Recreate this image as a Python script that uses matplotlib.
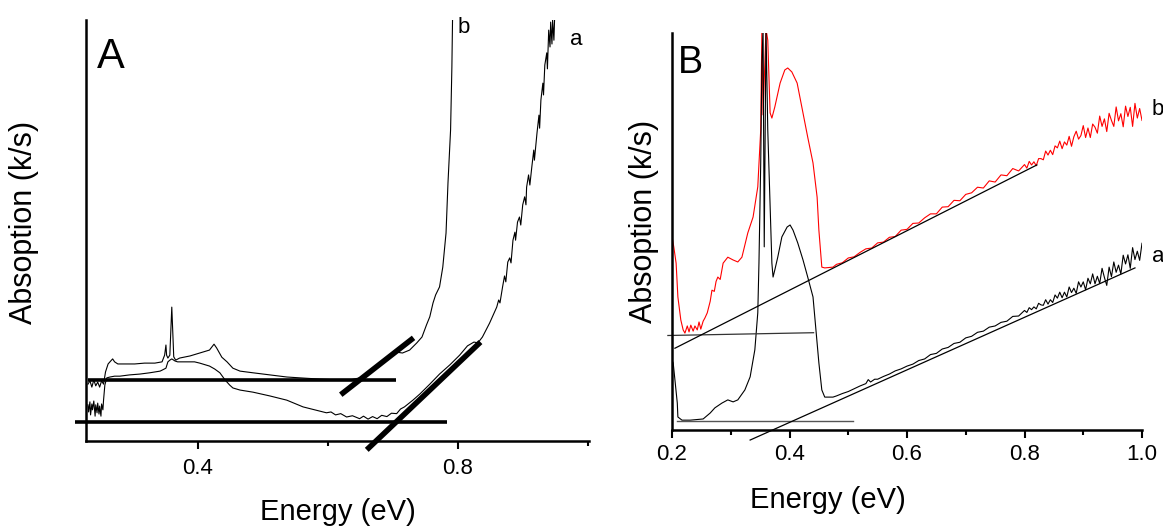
import matplotlib
matplotlib.use('Agg')
import matplotlib.pyplot as plt
from matplotlib.ticker import FixedLocator, MultipleLocator

plt.rcParams['font.family'] = ['Liberation Sans', 'DejaVu Sans']

# ---------------- Panel A (energy in eV, absorption in arbitrary units) ----------------
A_b_energy = [0.231, 0.234, 0.237, 0.240, 0.243, 0.246, 0.249, 0.252, 0.255,
              0.258, 0.262, 0.266, 0.269, 0.272, 0.277, 0.288,
              0.303, 0.318, 0.334, 0.345,
              0.349, 0.351, 0.352, 0.354, 0.357, 0.360, 0.362, 0.363, 0.366,
              0.372, 0.388, 0.403, 0.418, 0.425, 0.429, 0.437, 0.445, 0.454, 0.465,
              0.485, 0.511, 0.537, 0.557, 0.588, 0.618, 0.634, 0.649, 0.665, 0.680,
              0.695, 0.706, 0.715, 0.726, 0.737, 0.745, 0.752, 0.757, 0.762, 0.766,
              0.772, 0.777, 0.782, 0.785, 0.789, 0.791, 0.792]
A_b_abs = [13.5, 14.3, 12.8, 14.5, 13.1, 14.0, 12.8, 14.3, 13.5,
           16.4, 18.3, 19.0, 19.5, 18.8, 18.3, 18.3,
           18.3, 18.5, 18.5, 18.8,
           20.4, 22.8, 20.4, 19.7, 20.4, 31.8, 24.0, 20.0, 19.2,
           19.7, 20.2, 20.9, 21.6, 23.0, 22.1, 19.9, 18.8, 17.3, 16.6,
           16.2, 15.7, 15.2, 15.0, 14.7, 14.5, 14.5, 15.0, 16.4, 18.1,
           20.4, 21.1, 20.9, 21.6, 23.3, 24.7, 27.6, 29.5, 32.8, 34.7,
           36.6, 41.3, 49.4, 61.3, 73.9, 88.8, 100.0]

A_a_energy = [0.231, 0.232, 0.234, 0.235, 0.237, 0.238, 0.240, 0.242, 0.243, 0.245,
              0.246, 0.248, 0.249, 0.251, 0.252, 0.254, 0.255,
              0.257, 0.260, 0.265, 0.272, 0.280, 0.295, 0.311, 0.326, 0.342, 0.346,
              0.351, 0.354, 0.357, 0.360, 0.365, 0.369, 0.380, 0.395, 0.403, 0.418,
              0.426, 0.434, 0.442, 0.449, 0.454, 0.465, 0.485, 0.511, 0.537, 0.562,
              0.580, 0.598, 0.605, 0.612, 0.620, 0.629, 0.638, 0.649, 0.655, 0.662,
              0.669, 0.676, 0.683, 0.691, 0.698, 0.706, 0.712, 0.718, 0.731, 0.742,
              0.757, 0.772, 0.788, 0.803, 0.815, 0.825, 0.831, 0.838, 0.849, 0.860,
              0.863, 0.865, 0.869, 0.872, 0.874, 0.877, 0.880, 0.882, 0.885, 0.888,
              0.889, 0.892, 0.895, 0.897, 0.900, 0.903, 0.905, 0.906, 0.909, 0.911,
              0.914, 0.917, 0.918, 0.922, 0.925, 0.926, 0.928, 0.931, 0.932, 0.934,
              0.937, 0.938, 0.940, 0.942, 0.943, 0.945, 0.946, 0.948, 0.949]
A_a_abs = [8.6, 6.9, 9.3, 6.2, 8.8, 7.4, 9.5, 5.9, 8.6, 6.7,
           9.0, 6.4, 8.3, 5.9, 8.8, 7.4, 9.7,
           13.3, 15.0, 15.2, 15.4, 15.4, 15.7, 15.9, 16.2, 16.6, 16.9,
           17.3, 18.8, 19.2, 19.5, 19.0, 18.8, 18.8, 18.8, 18.5, 17.8,
           17.1, 16.2, 14.5, 13.3, 12.6, 12.1, 11.6, 10.7, 9.7, 8.1,
           7.4, 6.7, 6.9, 6.2, 6.5, 5.7, 6.0, 5.3, 5.9, 5.2,
           5.8, 5.3, 6.1, 5.8, 6.6, 6.5, 7.6, 8.1, 9.7, 11.2,
           13.5, 15.9, 18.1, 20.4, 22.6, 23.5, 23.3, 24.7, 28.0, 31.8,
           33.5, 32.8, 36.6, 39.2, 37.8, 42.5, 43.5, 42.3, 47.7, 49.6,
           47.7, 52.0, 53.2, 51.3, 56.1, 58.0, 56.1, 60.3, 63.2, 60.8,
           65.1, 69.1, 66.7, 73.2, 77.4, 74.3, 81.0, 85.0, 82.2, 89.3,
           92.2, 88.4, 97.6, 93.6, 99.5, 94.3, 100.0, 95.2, 100.0]

# baselines and tangents of panel A: (x0, x1), (y0, y1)
A_base_b = ([0.231, 0.705], [14.5, 14.5])
A_base_a = ([0.211, 0.783], [4.6, 4.6])
A_tan_b = ([0.620, 0.732], [11.0, 24.5])
A_tan_a = ([0.660, 0.835], [-2.1, 23.5])

# ---------------- Panel B ----------------
B_b_energy = [0.200, 0.203, 0.207, 0.210, 0.215, 0.219, 0.222, 0.226, 0.229, 0.232,
              0.236, 0.239, 0.243, 0.246, 0.249, 0.253, 0.256, 0.260, 0.262, 0.265,
              0.268, 0.272, 0.275, 0.278, 0.282,
              0.287, 0.295, 0.304, 0.312, 0.319, 0.329, 0.338, 0.346, 0.351, 0.353,
              0.355, 0.360, 0.363, 0.367, 0.370, 0.375, 0.384, 0.392, 0.397, 0.404,
              0.413, 0.423, 0.431, 0.440, 0.447, 0.450, 0.455, 0.460, 0.474,
              0.48, 0.49, 0.50, 0.51, 0.52, 0.53, 0.54, 0.55, 0.56, 0.57,
              0.58, 0.59, 0.60, 0.61, 0.62, 0.63, 0.64, 0.65, 0.66, 0.67,
              0.68, 0.69, 0.70, 0.71, 0.72, 0.73, 0.74, 0.75, 0.76, 0.77,
              0.78, 0.79,
              0.800, 0.804, 0.808, 0.812, 0.816, 0.820, 0.824, 0.828, 0.832, 0.836,
              0.840, 0.844, 0.848, 0.852, 0.856, 0.860, 0.864, 0.868, 0.872, 0.876,
              0.880, 0.884, 0.888, 0.892, 0.896, 0.900, 0.904, 0.908, 0.912, 0.916,
              0.920, 0.924, 0.928, 0.932, 0.936, 0.940, 0.944, 0.948, 0.952, 0.956,
              0.960, 0.964, 0.968, 0.972, 0.976, 0.980, 0.984, 0.988, 0.992, 0.996,
              1.000]
B_b_abs = [48.8, 46.2, 42.1, 33.6, 27.8, 25.3, 24.5, 26.3, 24.8, 26.5,
           25.0, 26.3, 25.3, 27.3, 25.5, 27.5, 28.3, 29.6, 30.8, 32.5,
           35.3, 35.0, 37.5, 38.6, 38.0,
           42.1, 43.6, 42.9, 42.4, 43.6, 49.7, 53.7, 61.3, 75.6, 101.0,
           79.4, 101.0, 98.2, 79.9, 78.6, 81.4, 87.4, 90.7, 91.2, 90.2,
           87.4, 79.9, 73.8, 67.3, 58.7, 50.4, 41.1, 40.9, 41.1,
           41.8, 42.2, 43.4, 43.7, 44.8, 45.7, 45.9, 47.2, 47.4, 48.6,
           48.8, 50.4, 50.6, 52.1, 52.2, 53.5, 54.5, 54.5, 56.2, 56.3,
           57.9, 57.8, 59.4, 59.8, 61.2, 61.0, 62.8, 62.5, 64.3, 64.1,
           65.9, 65.3,
           66.9, 66.0, 67.7, 66.8, 67.6, 66.6, 68.4, 68.4, 68.1, 70.3,
           69.3, 70.5, 69.4, 71.6, 71.1, 72.8, 70.9, 72.6, 71.8, 74.0,
           71.5, 73.9, 75.3, 73.3, 74.2, 76.7, 73.7, 76.1, 73.7, 77.1,
           76.3, 74.8, 79.1, 76.5, 78.4, 75.2, 79.8, 78.0, 76.5, 81.4,
           77.9, 79.7, 76.4, 81.6, 79.0, 81.3, 76.5, 82.3, 78.6, 81.0,
           78.0]

B_a_energy = [0.200, 0.202, 0.205, 0.209, 0.210, 0.217, 0.231, 0.253, 0.265, 0.273,
              0.285, 0.295, 0.304, 0.312, 0.324, 0.333, 0.341, 0.346, 0.348, 0.351,
              0.353, 0.355, 0.357, 0.360, 0.363, 0.370, 0.372, 0.375, 0.380, 0.387,
              0.396, 0.401, 0.406, 0.414, 0.423, 0.431, 0.440, 0.445, 0.450, 0.455,
              0.460, 0.474,
              0.48, 0.49, 0.50, 0.51, 0.52, 0.53, 0.534, 0.538, 0.545, 0.55,
              0.56, 0.57, 0.58, 0.59, 0.60, 0.61, 0.62, 0.63, 0.64, 0.65,
              0.66, 0.67, 0.68, 0.69, 0.70, 0.71, 0.72, 0.73, 0.74, 0.75,
              0.76, 0.77, 0.78, 0.79,
              0.800, 0.804, 0.808, 0.812, 0.816, 0.820, 0.824, 0.828, 0.832, 0.836,
              0.840, 0.844, 0.848, 0.852, 0.856, 0.860, 0.864, 0.868, 0.872, 0.876,
              0.880, 0.884, 0.888, 0.892, 0.896, 0.900, 0.904, 0.908, 0.912, 0.916,
              0.920, 0.924, 0.928, 0.932, 0.936, 0.940, 0.944, 0.948, 0.952, 0.956,
              0.960, 0.964, 0.968, 0.972, 0.976, 0.980, 0.984, 0.988, 0.992, 0.996,
              1.000]
B_a_abs = [17.7, 17.0, 12.7, 6.9, 3.4, 2.6, 2.6, 2.9, 4.4, 5.7,
           6.9, 7.7, 7.2, 7.7, 10.2, 13.5, 20.3, 29.6, 42.1, 67.3,
           92.5, 101.0, 46.2, 101.0, 75.6, 42.1, 38.6, 40.4, 43.6, 48.7,
           51.2, 51.7, 50.4, 47.2, 42.9, 38.6, 33.6, 25.3, 17.0, 10.2,
           8.4, 8.4,
           8.7, 9.3, 9.8, 10.5, 11.2, 11.8, 12.8, 12.2, 12.9, 12.9,
           13.6, 14.2, 15.0, 15.5, 16.2, 16.7, 17.6, 18.0, 19.1, 19.4,
           20.5, 20.9, 21.9, 22.2, 23.3, 23.7, 24.7, 25.0, 26.0, 26.3,
           27.2, 27.5, 28.7, 28.8,
           30.2, 29.7, 30.9, 30.4, 31.1, 30.6, 32.0, 31.6, 31.5, 32.9,
           31.8, 32.9, 32.2, 34.1, 33.3, 34.8, 33.4, 34.8, 33.6, 36.1,
           34.7, 35.8, 34.5, 37.4, 36.1, 37.4, 35.4, 38.3, 36.9, 39.4,
           36.9, 38.8, 37.0, 40.8, 38.5, 36.5, 41.1, 38.7, 42.4, 39.8,
           41.6, 39.4, 44.1, 41.9, 44.2, 40.8, 46.0, 43.0, 45.1, 42.8,
           47.1]

B_base_b = ([0.193, 0.441], [23.9, 24.6])
B_tan_b = ([0.205, 0.821], [20.7, 66.8])
B_base_a = ([0.209, 0.508], [2.4, 2.4])
B_tan_a = ([0.333, 0.988], [-2.4, 40.9])

fig = plt.figure(figsize=(11.63, 5.31), dpi=100)
axA = fig.add_axes([0.07395, 0.16949, 0.43250, 0.79284])
axB = fig.add_axes([0.57782, 0.18927, 0.40413, 0.74859])

for ax in (axA, axB):
    ax.spines['top'].set_visible(False)
    ax.spines['right'].set_visible(False)
    for s in ('left', 'bottom'):
        ax.spines[s].set_linewidth(1.8)
    ax.set_yticks([])
    ax.set_ylim(0, 100)
    ax.tick_params(axis='x', which='major', direction='out', length=6, width=1.5,
                   labelsize=16)
    ax.tick_params(axis='x', which='minor', direction='out', length=3.5, width=1.5)

# Panel A
axA.plot(A_b_energy, A_b_abs, color='black', lw=0.8)
axA.plot(A_a_energy, A_a_abs, color='black', lw=0.8)
axA.plot(*A_base_b, color='black', lw=2.6, solid_capstyle='butt', clip_on=False)
axA.plot(*A_base_a, color='black', lw=2.6, solid_capstyle='butt', clip_on=False)
axA.plot(*A_tan_b, color='black', lw=4, solid_capstyle='butt', clip_on=False)
axA.plot(*A_tan_a, color='black', lw=4, solid_capstyle='butt', clip_on=False)
axA.set_xlim(0.228, 1.002)
axA.xaxis.set_major_locator(FixedLocator([0.4, 0.8]))
axA.xaxis.set_minor_locator(FixedLocator([0.6, 1.0]))
axA.set_xticklabels(['0.4', '0.8'])
axA.tick_params(axis='x', which='major', pad=6)
axA.set_xlabel('Energy (eV)', fontsize=21)
axA.xaxis.set_label_coords(0.50, -0.135)
axA.set_ylabel('Absoption (k/s)', fontsize=22)
axA.yaxis.set_label_coords(-0.094, 0.52)
axA.text(0.022, 0.886, 'A', transform=axA.transAxes, fontsize=30, va='baseline')
axA.text(0.800, 96.9, 'b', fontsize=16, va='baseline')
axA.text(0.972, 94.1, 'a', fontsize=16, va='baseline')

# Panel B
axB.plot(B_b_energy, B_b_abs, color='#ff0000', lw=0.8)
axB.plot(B_a_energy, B_a_abs, color='black', lw=0.8)
axB.plot(*B_base_b, color='#333333', lw=0.9, clip_on=False)
axB.plot(*B_tan_b, color='black', lw=0.9)
axB.plot(*B_base_a, color='#555555', lw=1.0)
axB.plot(*B_tan_a, color='black', lw=0.9, clip_on=False)
axB.set_xlim(0.2, 1.0)
axB.xaxis.set_major_locator(MultipleLocator(0.2))
axB.xaxis.set_minor_locator(MultipleLocator(0.1))
axB.tick_params(axis='x', which='major', pad=4)
axB.set_xlabel('Energy (eV)', fontsize=21)
axB.xaxis.set_label_coords(0.332, -0.14)
axB.set_ylabel('Absoption (k/s)', fontsize=22)
axB.yaxis.set_label_coords(-0.028, 0.525)
axB.text(0.013, 0.899, 'B', transform=axB.transAxes, fontsize=27, va='baseline')
axB.text(1.017, 79.4, 'b', fontsize=16, va='baseline', clip_on=False)
axB.text(1.017, 42.4, 'a', fontsize=16, va='baseline', clip_on=False)

fig.savefig('out.png', dpi=100)
